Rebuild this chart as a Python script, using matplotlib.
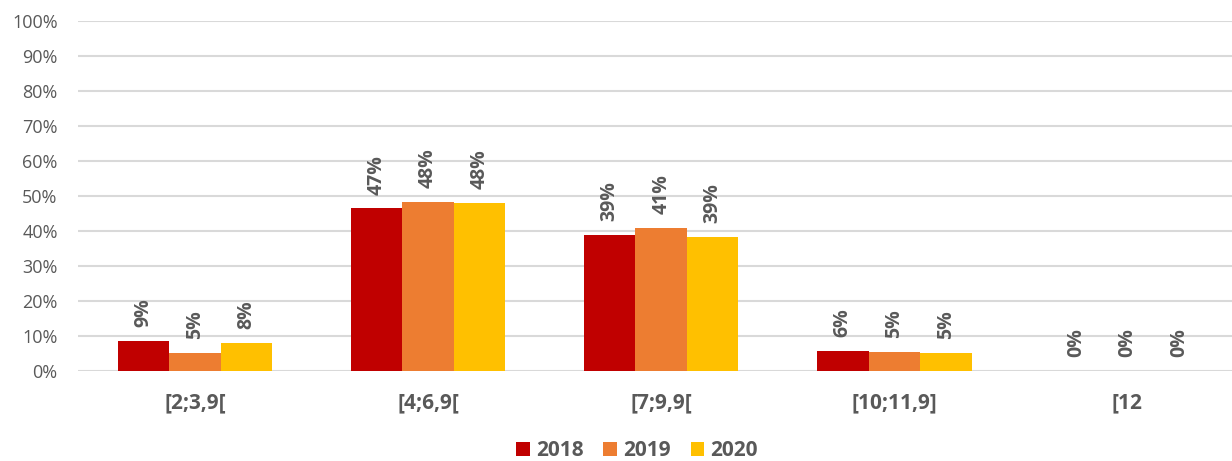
import matplotlib
matplotlib.use("Agg")
import matplotlib.pyplot as plt
import numpy as np
from matplotlib.ticker import PercentFormatter

plt.rcParams['font.family'] = ['Open Sans', 'DejaVu Sans']

categories = ["[2;3,9[", "[4;6,9[", "[7;9,9[", "[10;11,9]", "[12"]
years = ["2018", "2019", "2020"]
v2018 = [8.6, 46.5, 38.9, 5.7, 0.0]
v2019 = [5.1, 48.3, 40.9, 5.4, 0.0]
v2020 = [8.0, 48.1, 38.3, 5.1, 0.0]
labels2018 = ["9%", "47%", "39%", "6%", "0%"]
labels2019 = ["5%", "48%", "41%", "5%", "0%"]
labels2020 = ["8%", "48%", "39%", "5%", "0%"]
colors = ["#C00000", "#ED7D31", "#FFC000"]

series = [v2018, v2019, v2020]
series_labels = [labels2018, labels2019, labels2020]

fig = plt.figure(figsize=(12.32, 4.61), dpi=100)
ax = fig.add_axes([0.0637, 0.195, 0.946, 0.759])

x = np.arange(len(categories))
w = 0.221
text_color = "#595959"
for i, (vals, labs, c, yr) in enumerate(zip(series, series_labels, colors, years)):
    xs = x + (i - 1) * w
    bars = ax.bar(xs, vals, width=w, color=c, label=yr, zorder=3)
    for b, lab in zip(bars, labs):
        ax.annotate(lab, (b.get_x() + b.get_width() / 2, b.get_height()),
                    xytext=(0, 10), textcoords="offset points",
                    rotation=90, ha="center", va="bottom",
                    fontsize=14, fontweight="bold", color=text_color)

ax.set_xlim(-0.5, len(categories) - 0.5)
ax.set_ylim(0, 100)
ax.set_yticks(np.arange(0, 101, 10))
ax.yaxis.set_major_formatter(PercentFormatter(decimals=0))
ax.set_xticks(x)
ax.set_xticklabels(categories, fontsize=15, fontweight="bold", color=text_color)
ax.tick_params(axis="y", length=0, pad=15, labelsize=13, labelcolor=text_color)
ax.tick_params(axis="x", length=0, pad=15)
ax.grid(axis="y", color="#D9D9D9", linewidth=1.5, zorder=0)
for s in ax.spines.values():
    s.set_visible(False)

leg = fig.legend(loc="center", bbox_to_anchor=(0.517, 0.022), ncol=3, frameon=False,
                 handlelength=0.65, handleheight=0.65, handletextpad=0.3, columnspacing=0.95,
                 prop={"size": 15, "weight": "bold"})
for t in leg.get_texts():
    t.set_color(text_color)

fig.savefig("out.png", dpi=100)
